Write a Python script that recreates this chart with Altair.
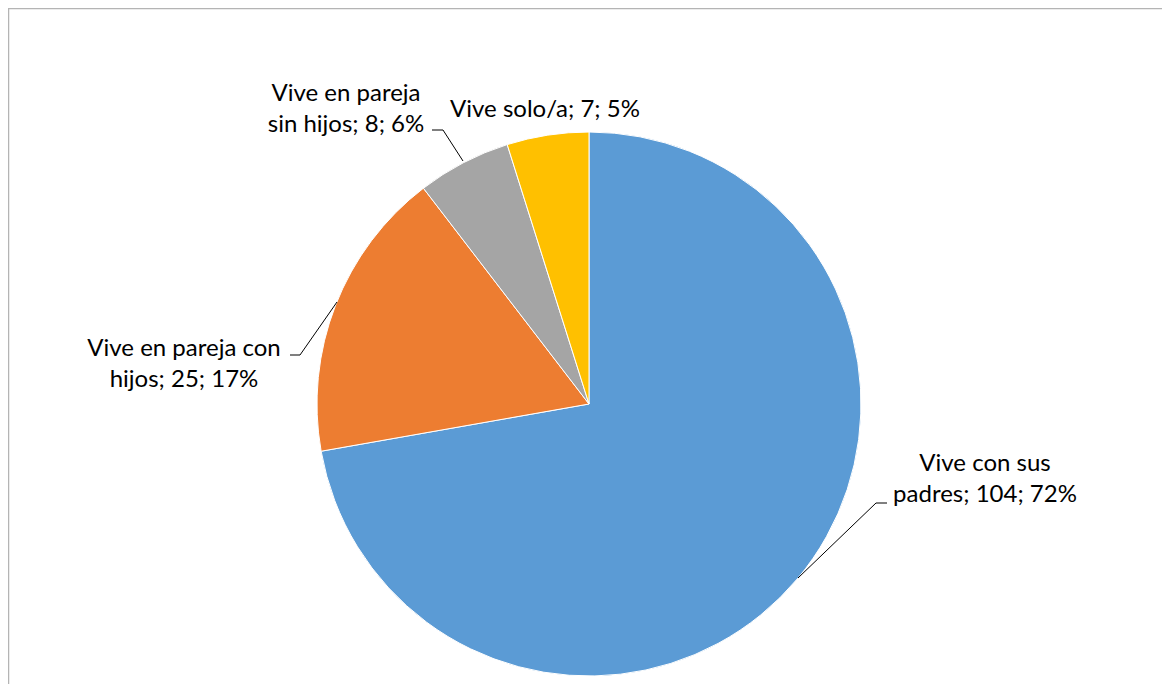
import altair as alt
import pandas as pd

# ---- data ----
categories = ["Vive con sus padres", "Vive en pareja con hijos", "Vive en pareja sin hijos", "Vive solo/a"]
counts = [104, 25, 8, 7]
percents = [72, 17, 6, 5]
colors = ["#5B9BD5", "#ED7D31", "#A5A5A5", "#FFC000"]

W, H = 1154, 676
CX, CY, R = 581, 396, 272
FONT = "Lato"
FS = 24

pie_df = pd.DataFrame({"cat": categories, "n": counts, "order": list(range(len(categories)))})

pie = alt.Chart(pie_df).mark_arc(outerRadius=R, stroke="white", strokeWidth=1).encode(
    theta=alt.Theta("n:Q", stack=True),
    order=alt.Order("order:Q"),
    color=alt.Color("cat:N", scale=alt.Scale(domain=categories, range=colors), legend=None),
    x=alt.value(CX), y=alt.value(CY),
)

# label texts built from the data
full = [f"{c}; {n}; {p}%" for c, n, p in zip(categories, counts, percents)]
# line breaks / anchor positions (layout, page coords minus 8px margin)
label_layout = [
    (["Vive con sus", f"padres; {counts[0]}; {percents[0]}%"], 977, 463),
    (["Vive en pareja con", f"hijos; {counts[1]}; {percents[1]}%"], 176, 348),
    (["Vive en pareja", f"sin hijos; {counts[2]}; {percents[2]}%"], 338, 93),
    ([full[3]], 537, 109),
]
LH = 31
rows = []
for lines, x, y in label_layout:
    for i, t in enumerate(lines):
        rows.append({"t": t, "x": x, "y": y + i * LH})
lab_df = pd.DataFrame(rows)

labels = alt.Chart(lab_df).mark_text(
    font=FONT, fontSize=FS, color="#000000", align="center", baseline="alphabetic"
).encode(
    x=alt.X("x:Q", scale=alt.Scale(domain=[0, W], range=[0, W]), axis=None),
    y=alt.Y("y:Q", scale=alt.Scale(domain=[0, H], range=[0, H]), axis=None),
    text="t:N",
)

# leader lines (layout)
segs = [
    (868, 495, 879, 495), (868, 495, 790, 570),
    (282, 347, 292, 347), (292, 347, 329, 294),
    (424, 122, 435, 122), (435, 122, 455, 153),
]
seg_df = pd.DataFrame(segs, columns=["x1", "y1", "x2", "y2"])
leaders = alt.Chart(seg_df).mark_rule(color="#000000", strokeWidth=1).encode(
    x=alt.X("x1:Q", scale=alt.Scale(domain=[0, W], range=[0, W]), axis=None),
    y=alt.Y("y1:Q", scale=alt.Scale(domain=[0, H], range=[0, H]), axis=None),
    x2="x2:Q", y2="y2:Q",
)

border_top = alt.Chart(pd.DataFrame({"a": [0]})).mark_rule(color="#B4B4B4", strokeWidth=1.5).encode(
    x=alt.value(0), x2=alt.value(W), y=alt.value(0.5)
)
border_left = alt.Chart(pd.DataFrame({"a": [0]})).mark_rule(color="#B4B4B4", strokeWidth=1.5).encode(
    x=alt.value(0.5), y=alt.value(0), y2=alt.value(H)
)

chart = alt.layer(pie, leaders, labels, border_top, border_left).resolve_scale(
    x="shared", y="shared"
).properties(
    width=W, height=H, padding=0, autosize=alt.AutoSizeParams(type="none")
).configure_view(stroke=None)

chart.save("out.html", embed_options={"renderer": "svg", "actions": False})
